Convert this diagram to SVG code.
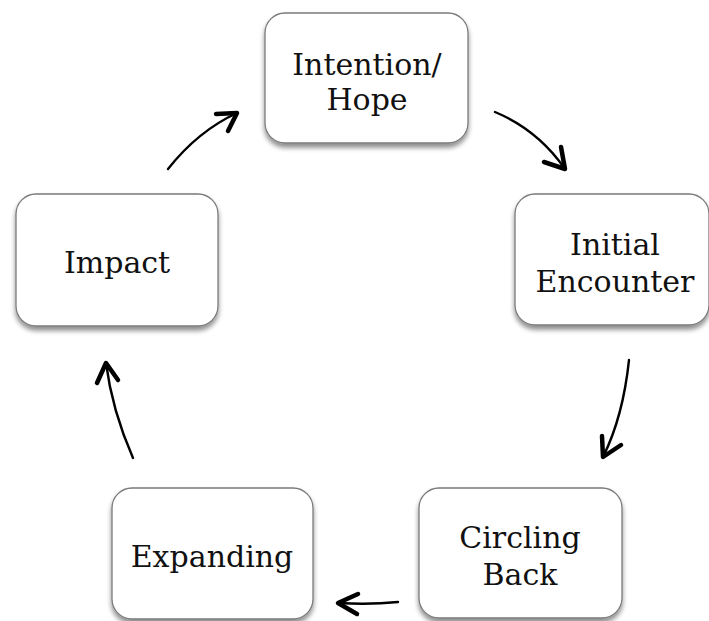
<svg xmlns="http://www.w3.org/2000/svg" width="709" height="621" viewBox="0 0 709 621">
<style>
.box{fill:#fff;stroke:#7a7a7a;stroke-width:1.3;filter:url(#sh)}
.lbl{font-family:"DejaVu Serif","Liberation Serif",serif;font-size:30px;fill:#111;text-anchor:middle}
.ln{fill:none;stroke:#000;stroke-width:2.4;stroke-linecap:round}
.hd{fill:none;stroke:#000;stroke-width:4.5;stroke-linecap:round;stroke-linejoin:round}
</style>
<defs>
<filter id="sh" x="-10%" y="-10%" width="120%" height="130%">
<feGaussianBlur in="SourceAlpha" stdDeviation="2.5"/>
<feOffset dx="0" dy="4" result="b"/>
<feComponentTransfer><feFuncA type="linear" slope="0.45"/></feComponentTransfer>
<feMerge><feMergeNode/><feMergeNode in="SourceGraphic"/></feMerge>
</filter>
</defs>
<rect width="709" height="621" fill="#fff"/>
<g id="intention">
<rect class="box" x="265" y="13" width="203" height="130" rx="20"/>
<text class="lbl" x="367" y="75">Intention/</text>
<text class="lbl" x="367" y="110">Hope</text>
</g>
<g id="initial">
<rect class="box" x="515" y="194" width="194" height="131" rx="20"/>
<text class="lbl" x="615" y="255">Initial</text>
<text class="lbl" x="615" y="292">Encounter</text>
</g>
<g id="circling">
<rect class="box" x="419" y="488" width="203" height="130" rx="20"/>
<text class="lbl" x="520" y="548">Circling</text>
<text class="lbl" x="520" y="585">Back</text>
</g>
<g id="expanding">
<rect class="box" x="112" y="488" width="201" height="131" rx="20"/>
<text class="lbl" x="212" y="567">Expanding</text>
</g>
<g id="impact">
<rect class="box" x="16" y="194" width="202" height="132" rx="20"/>
<text class="lbl" x="117" y="273">Impact</text>
</g>
<g id="connectors">
<path class="ln" d="M168,169 Q198,131 237,113"/>
<path class="hd" d="M216,114 L237,113 L228,131"/>
<path class="ln" d="M495,112 Q538,130 565,169"/>
<path class="hd" d="M561,147 L565,169 L544,162"/>
<path class="ln" d="M629,360 Q623,417 603,457"/>
<path class="hd" d="M602,436 L603,457 L621,445"/>
<path class="ln" d="M398,602 Q370,605 338,603"/>
<path class="hd" d="M358,594 L338,603 L357,614"/>
<path class="ln" d="M133,458 Q112,410 106,363"/>
<path class="hd" d="M97,383 L106,363 L118,380"/>
</g>
</svg>
